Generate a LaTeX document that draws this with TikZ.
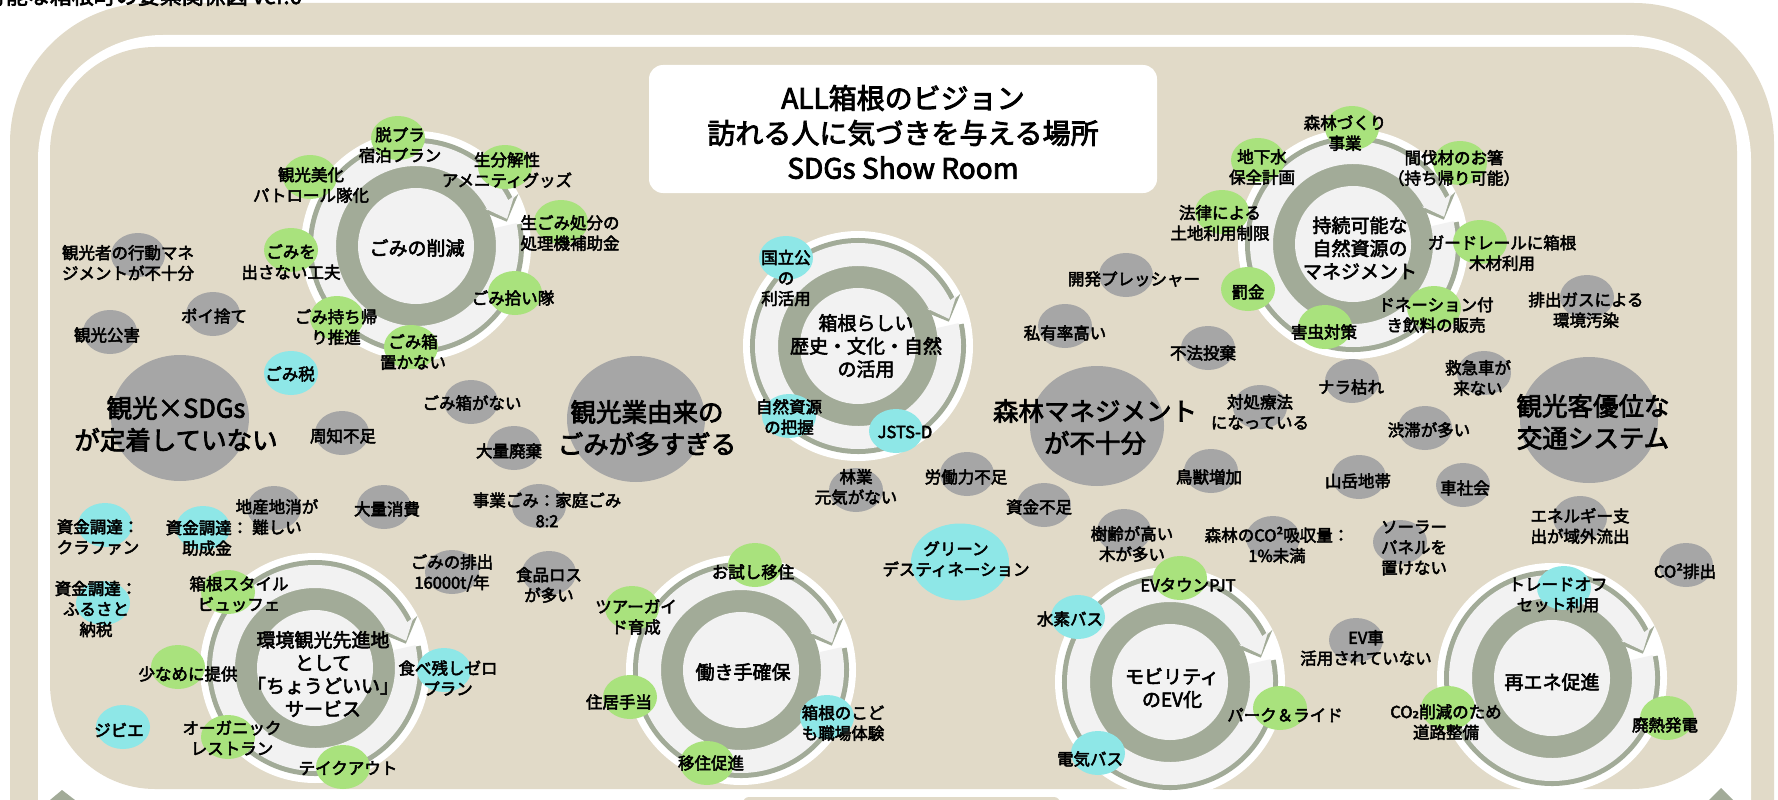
\documentclass[tikz,border=0pt]{standalone}
\usepackage{fontspec}
\setmainfont{Noto Sans CJK JP}[FakeBold=3]
\newfontfamily\subfont{DejaVu Sans}[FakeBold=3]
\usepackage{tikz}
\usetikzlibrary{shapes.geometric}

\definecolor{framec}{HTML}{E1DAC8}
\definecolor{probc}{HTML}{A6A6A6}
\definecolor{solc}{HTML}{A9E27D}
\definecolor{actc}{HTML}{8EE7E7}
\definecolor{ringc}{HTML}{A2AB98}
\definecolor{lightc}{HTML}{F2F2F2}

\newcommand{\fsmall}{\fontsize{16.5}{20.5}\selectfont}
\newcommand{\fbig}{\fontsize{25.5}{32}\selectfont}
\newcommand{\fcyc}{\fontsize{19}{23}\selectfont}
\newcommand{\ftitle}{\fontsize{28}{35}\selectfont}

\tikzset{cyc/.pic={
  \fill[white] (0,0) circle[radius=115pt];
  \fill[ringc] (0,0) circle[radius=80pt];
  \fill[ringc] (12:108pt) arc[start angle=12,end angle=-334,radius=108pt]
    -- (27:115pt) -- (15:94pt) -- (29:73pt) -- (26:78pt)
    arc[start angle=-334,end angle=12,radius=78pt] -- cycle;
  \fill[lightc] (12.8:103pt) arc[start angle=12.8,end angle=-333.6,radius=103pt]
    -- (27.2:110.5pt) -- (16.6:95pt) -- (28.6:78.5pt) -- (26.4:80pt)
    arc[start angle=-333.6,end angle=12.8,radius=80pt] -- cycle;
  \fill[lightc] (0,0) circle[radius=58pt];
}}

\begin{document}
\begin{tikzpicture}[x=1pt, y=1pt]
\tikzstyle{prob}=[ellipse,
                  fill=probc,
                  minimum width=54pt,
                  minimum height=44pt,
                  inner sep=0pt]
\tikzstyle{sol}=[prob, fill=solc]
\tikzstyle{act}=[prob, fill=actc]
\tikzstyle{core}=[prob, minimum width=138pt, minimum height=126pt]
\tikzstyle{lbl}=[font=\fsmall, align=center, inner sep=0pt]
\tikzstyle{corelbl}=[lbl, font=\fbig]
\tikzstyle{cyclbl}=[lbl, font=\fcyc]

\useasboundingbox (0,0) rectangle (1778,-800);

% frame
\fill[framec, rounded corners=140pt] (10,-3) rectangle (1774,-950);
\fill[white, rounded corners=125pt] (38,-35) rectangle (1751,-950);
\fill[framec, rounded corners=105pt] (50,-47) rectangle (1737,-789);
\fill[white] (40,-800) -- (62,-778) -- (86,-800) -- cycle;
\fill[ringc] (50,-800) -- (62,-790) -- (75,-800) -- cycle;
\fill[white] (1698,-800) -- (1721,-777) -- (1744,-800) -- cycle;
\fill[ringc] (1709,-800) -- (1721,-788) -- (1733,-800) -- cycle;
\fill[framec, rounded corners=6pt] (743,-797) rectangle (1060,-830);

\node[anchor=base east, font=\fontsize{22}{22}\selectfont, inner sep=0pt] (doctitle)
  at (302,-4) {持続可能な箱根町の要素関係図 ver.6};

% vision
\node[fill=white, rounded corners=14pt, minimum width=508pt, minimum height=128pt]
  (visionbox) at (903,-129) {};
\node[lbl, font=\ftitle] (vision) at (903,-132)
  {ALL箱根のビジョン\\訪れる人に気づきを与える場所\\SDGs Show Room};

% cycles
\foreach \c in {(416,-246),(858,-346),(1353,-244),(315,-668),(741,-670),(1170,-682),(1552,-678)}
  \pic at \c {cyc};

% problems
\node[core] (sdgs) at (180,-418) {};
\node[core] (tourgomi) at (636,-419) {};
\node[core, minimum width=134pt, minimum height=120pt] (forest) at (1097,-426) {};
\node[core] (traffic) at (1589,-420) {};

\node[prob] (kodo) at (138,-255) {};
\node[prob] (poi) at (213,-314) {};
\node[prob] (kogai) at (110,-332) {};
\node[prob] (gomibako) at (471,-402) {};
\node[prob] (shuchi) at (342,-433) {};
\node[prob] (haiki) at (514,-448) {};
\node[prob] (shohi) at (384,-507) {};
\node[prob] (jigyo) at (539,-506) {};
\node[prob] (chisan) at (274,-508) {};
\node[prob] (haishutsu) at (452,-572) {};
\node[prob] (foodloss) at (549,-573) {};
\node[prob] (ringyo) at (856,-490) {};
\node[prob] (rodo) at (967,-474) {};
\node[prob] (shikin) at (1044,-505) {};
\node[prob] (kaihatsu) at (1126,-275) {};
\node[prob] (shiyu) at (1065,-326) {};
\node[prob] (fuho) at (1208,-348) {};
\node[prob] (taisho) at (1260,-407) {};
\node[prob] (nara) at (1352,-381) {};
\node[prob] (kyukyu) at (1484,-373) {};
\node[prob] (haigas) at (1587,-297) {};
\node[prob] (jutai) at (1425,-428) {};
\node[prob] (chouju) at (1211,-471) {};
\node[prob] (sangaku) at (1359,-477) {};
\node[prob] (kuruma) at (1463,-485) {};
\node[prob] (jurei) at (1124,-531) {};
\node[prob] (kyushu) at (1273,-538) {};
\node[prob] (solar) at (1400,-542) {};
\node[prob] (energy) at (1580,-518) {};
\node[prob] (co2out) at (1686,-565) {};
\node[prob] (evcar) at (1356,-640) {};

% measures
\node[sol] (datsupura) at (398,-138) {};
\node[sol] (seibun) at (505,-167) {};
\node[sol] (bika) at (310,-177) {};
\node[sol] (namagomi) at (561,-222) {};
\node[sol] (dasanai) at (291,-250) {};
\node[sol] (hiroi) at (515,-293) {};
\node[sol] (mochikaeri) at (337,-318) {};
\node[sol] (okanai) at (411,-347) {};
\node[sol] (morizukuri) at (1352,-128) {};
\node[sol] (chikasui) at (1258,-160) {};
\node[sol] (hashi) at (1460,-163) {};
\node[sol] (horitsu) at (1222,-212) {};
\node[sol] (guard) at (1480,-242) {};
\node[sol] (bakkin) at (1248,-289) {};
\node[sol] (gaichu) at (1325,-327) {};
\node[sol] (donation) at (1434,-308) {};
\node[sol] (buffet) at (228,-592) {};
\node[sol] (sukuname) at (178,-667) {};
\node[sol] (organic) at (228,-737) {};
\node[sol] (takeout) at (343,-767) {};
\node[sol] (otameshi) at (755,-565) {};
\node[sol] (guide) at (632,-608) {};
\node[sol] (jukyo) at (630,-697) {};
\node[sol] (iju) at (707,-763) {};
\node[sol] (evtown) at (1180,-578) {};
\node[sol] (parkride) at (1280,-708) {};
\node[sol] (doro) at (1448,-708) {};
\node[sol] (hainetsu) at (1667,-718) {};

\node[act] (gomizei) at (291,-373) {};
\node[act] (kokuritsu) at (786,-258) {};
\node[act] (haaku) at (789,-416) {};
\node[act] (jsts) at (896,-431) {};
\node[act, minimum width=98pt, minimum height=77pt] (greendest) at (960,-562) {};
\node[act] (crowd) at (105,-525) {};
\node[act] (josei) at (203,-528) {};
\node[act] (furusato) at (103,-603) {};
\node[act] (jibie) at (123,-727) {};
\node[act] (zero) at (444,-670) {};
\node[act] (kodomo) at (827,-717) {};
\node[act] (suiso) at (1078,-617) {};
\node[act] (denki) at (1098,-753) {};
\node[act] (tradeoff) at (1564,-588) {};

% labels
\node[cyclbl] (gomi-t) at (417,-248) {ごみの削減};
\node[cyclbl] (rekishi-t) at (866,-346) {箱根らしい\\歴史・文化・自然\\の活用};
\node[cyclbl] (shigen-t) at (1360,-248) {持続可能な\\自然資源の\\マネジメント};
\node[cyclbl] (service-t) at (323,-674) {環境観光先進地\\として\\「ちょうどいい」\\サービス};
\node[cyclbl] (ninaite-t) at (743,-672) {働き手確保};
\node[cyclbl] (ev-t) at (1172,-688) {モビリティ\\のEV化};
\node[cyclbl] (saiene-t) at (1552,-682) {再エネ促進};

\node[corelbl] (sdgs-t) at (176,-424) {観光×SDGs\\が定着していない};
\node[corelbl] (tourgomi-t) at (647,-428) {観光業由来の\\ごみが多すぎる};
\node[corelbl] (forest-t) at (1095,-427) {森林マネジメント\\が不十分};
\node[corelbl] (traffic-t) at (1593,-422) {観光客優位な\\交通システム};

\node[lbl] (kodo-t) at (128,-263) {観光者の行動マネ\\ジメントが不十分};
\node[lbl] (poi-t) at (214,-316) {ポイ捨て};
\node[lbl] (kogai-t) at (107,-335) {観光公害};
\node[lbl] (gomibako-t) at (472,-403) {ごみ箱がない};
\node[lbl] (shuchi-t) at (343,-436) {周知不足};
\node[lbl] (haiki-t) at (509,-451) {大量廃棄};
\node[lbl] (shohi-t) at (387,-509) {大量消費};
\node[lbl] (jigyo-t) at (547,-510) {事業ごみ：家庭ごみ\\8:2};
\node[lbl] (chisan-t) at (277,-517) {地産地消が\\難しい};
\node[lbl] (haishutsu-t) at (452,-573) {ごみの排出\\16000t/年};
\node[lbl] (foodloss-t) at (549,-585) {食品ロス\\が多い};
\node[lbl] (ringyo-t) at (856,-487) {林業\\元気がない};
\node[lbl] (rodo-t) at (966,-477) {労働力不足};
\node[lbl] (shikin-t) at (1039,-507) {資金不足};
\node[lbl] (kaihatsu-t) at (1134,-279) {開発プレッシャー};
\node[lbl] (shiyu-t) at (1065,-333) {私有率高い};
\node[lbl] (fuho-t) at (1203,-353) {不法投棄};
\node[lbl] (taisho-t) at (1260,-412) {対処療法\\になっている};
\node[lbl] (nara-t) at (1351,-387) {ナラ枯れ};
\node[lbl] (kyukyu-t) at (1478,-378) {救急車が\\来ない};
\node[lbl] (haigas-t) at (1586,-310) {排出ガスによる\\環境汚染};
\node[lbl] (jutai-t) at (1429,-430) {渋滞が多い};
\node[lbl] (chouju-t) at (1209,-477) {鳥獣増加};
\node[lbl] (sangaku-t) at (1358,-481) {山岳地帯};
\node[lbl] (kuruma-t) at (1465,-488) {車社会};
\node[lbl] (jurei-t) at (1132,-544) {樹齢が高い\\木が多い};
\node[lbl] (kyushu-t) at (1277,-545) {森林のCO²吸収量：\\1\%未満};
\node[lbl] (solar-t) at (1414,-548) {ソーラー\\パネルを\\置けない};
\node[lbl] (energy-t) at (1580,-526) {エネルギー支\\出が域外流出};
\node[lbl] (co2out-t) at (1685,-571) {CO²排出};
\node[lbl] (evcar-t) at (1366,-648) {EV車\\活用されていない};

\node[lbl] (datsupura-t) at (400,-145) {脱プラ\\宿泊プラン};
\node[lbl] (seibun-t) at (507,-170) {生分解性\\アメニティグッズ};
\node[lbl] (bika-t) at (311,-185) {観光美化\\パトロール隊化};
\node[lbl] (namagomi-t) at (570,-233) {生ごみ処分の\\処理機補助金};
\node[lbl] (dasanai-t) at (291,-262) {ごみを\\出さない工夫};
\node[lbl] (hiroi-t) at (513,-298) {ごみ拾い隊};
\node[lbl] (mochikaeri-t) at (336,-327) {ごみ持ち帰\\り推進};
\node[lbl] (okanai-t) at (413,-352) {ごみ箱\\置かない};
\node[lbl] (morizukuri-t) at (1345,-133) {森林づくり\\事業};
\node[lbl] (chikasui-t) at (1262,-167) {地下水\\保全計画};
\node[lbl] (hashi-t) at (1454,-168) {間伐材のお箸\\（持ち帰り可能）};
\node[lbl] (horitsu-t) at (1220,-223) {法律による\\土地利用制限};
\node[lbl] (guard-t) at (1502,-253) {ガードレールに箱根\\木材利用};
\node[lbl] (bakkin-t) at (1248,-292) {罰金};
\node[lbl] (gaichu-t) at (1324,-332) {害虫対策};
\node[lbl] (donation-t) at (1436,-315) {ドネーション付\\き飲料の販売};
\node[lbl] (buffet-t) at (239,-594) {箱根スタイル\\ビュッフェ};
\node[lbl] (sukuname-t) at (188,-674) {少なめに提供};
\node[lbl] (organic-t) at (232,-738) {オーガニック\\レストラン};
\node[lbl] (takeout-t) at (348,-768) {テイクアウト};
\node[lbl] (otameshi-t) at (753,-572) {お試し移住};
\node[lbl] (guide-t) at (636,-617) {ツアーガイ\\ド育成};
\node[lbl] (jukyo-t) at (619,-702) {住居手当};
\node[lbl] (iju-t) at (711,-763) {移住促進};
\node[lbl] (evtown-t) at (1188,-585) {EVタウンPJT};
\node[lbl] (parkride-t) at (1285,-715) {パーク＆ライド};
\node[lbl] (doro-t) at (1446,-722) {CO{\subfont ₂}削減のため\\道路整備};
\node[lbl] (hainetsu-t) at (1665,-725) {廃熱発電};

\node[lbl] (gomizei-t) at (290,-374) {ごみ税};
\node[lbl] (kokuritsu-t) at (786,-278) {国立公\\の\\利活用};
\node[lbl] (haaku-t) at (789,-417) {自然資源\\の把握};
\node[lbl] (jsts-t) at (905,-432) {JSTS-D};
\node[lbl] (greendest-t) at (956,-559) {グリーン\\デスティネーション};
\node[lbl] (crowd-t) at (98,-537) {資金調達：\\クラファン};
\node[lbl] (josei-t) at (207,-538) {資金調達：\\助成金};
\node[lbl] (furusato-t) at (96,-609) {資金調達：\\ふるさと\\納税};
\node[lbl] (jibie-t) at (119,-730) {ジビエ};
\node[lbl] (zero-t) at (448,-678) {食べ残しゼロ\\プラン};
\node[lbl] (kodomo-t) at (843,-723) {箱根のこど\\も職場体験};
\node[lbl] (suiso-t) at (1070,-619) {水素バス};
\node[lbl] (denki-t) at (1090,-759) {電気バス};
\node[lbl] (tradeoff-t) at (1558,-595) {トレードオフ\\セット利用};
\end{tikzpicture}
\end{document}
